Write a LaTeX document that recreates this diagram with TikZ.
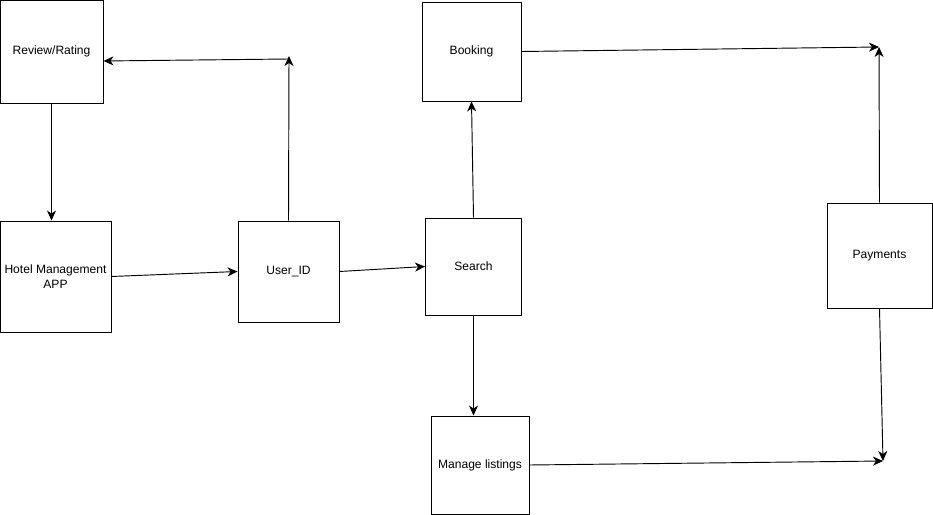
\documentclass[tikz,border=0pt]{standalone}
\usepackage{fontspec}
\setmainfont{Liberation Sans}
\usetikzlibrary{arrows.meta,calc}
\newcommand{\px}{0.03cm}

\begin{document}
\begin{tikzpicture}[x=0.03cm, y=-0.03cm,
    box/.style={draw, line width=0.8pt, inner sep=0pt, align=center,
        font=\fontsize{10.3}{12.4}\selectfont},
    arr/.style={draw, line width=0.8pt, -{Stealth[length=0.3cm, width=0.27cm, inset=0.09cm]}}]
    \useasboundingbox (0,0) rectangle (933,515);

    \node[box, minimum width=103*\px, minimum height=103*\px] (review) at (51.5,51.5) {Review/Rating};
    \node[box, minimum width=111*\px, minimum height=111*\px] (hotel) at (55.5,276.5) {Hotel Management\\APP};
    \node[box, minimum width=101*\px, minimum height=101*\px] (user) at (288.5,271.5) {User\_ID};
    \node[box, minimum width=99*\px, minimum height=99*\px] (booking) at (471.5,51.5) {Booking};
    \node[box, minimum width=96*\px, minimum height=97*\px] (search) at (473.5,266.5) {Search};
    \node[box, minimum width=105*\px, minimum height=105*\px] (pay) at (879.5,255.5) {Payments};
    \node[box, minimum width=98*\px, minimum height=98*\px] (manage) at (480,465) {Manage listings};

    \coordinate (uidtop) at (289,56);
    \coordinate (paytop) at (879,47);
    \coordinate (paybot) at (883,461);

    % left part
    \draw[arr] (review.south) -- (review.south |- hotel.north);
    \draw[arr] (hotel.east) -- (user.west);
    \draw[arr] (user.north) -- (uidtop);
    \draw[arr] ($(uidtop)+(0,3)$) -- ($(review.east)+(0,9.5)$);

    % middle part
    \draw[arr] (user.east) -- (search.west);
    \draw[arr] (search.north) -- (booking.south);
    \draw[arr] (search.south) -- (search.south |- manage.north);

    % payments
    \draw[arr] (booking.east) -- (paytop);
    \draw[arr] (pay.north) -- (paytop);
    \draw[arr] (manage.east) -- (paybot);
    \draw[arr] (pay.south) -- (paybot);
\end{tikzpicture}
\end{document}
